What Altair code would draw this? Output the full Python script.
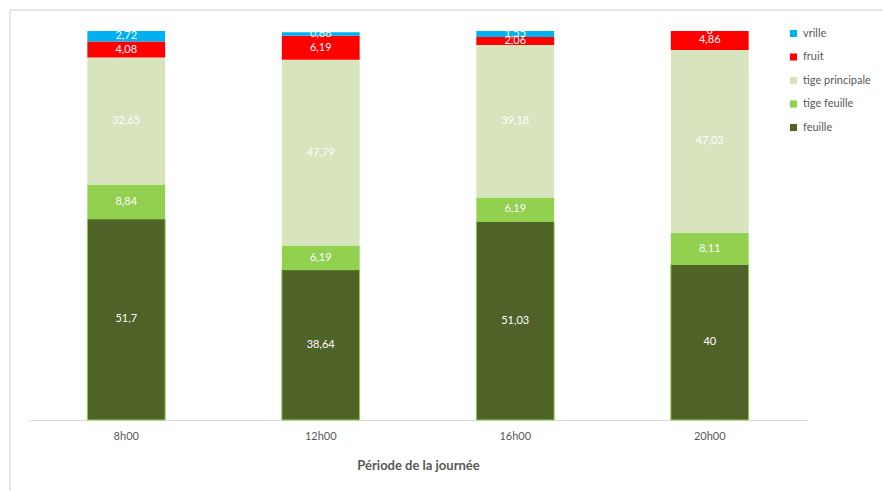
import altair as alt
import pandas as pd

periodes = ["8h00", "12h00", "16h00", "20h00"]
series = ["feuille", "tige feuille", "tige principale", "fruit", "vrille"]
feuille = [51.7, 38.64, 51.03, 40]
tige_feuille = [8.84, 6.19, 6.19, 8.11]
tige_principale = [32.65, 47.79, 39.18, 47.03]
fruit = [4.08, 6.19, 2.06, 4.86]
vrille = [2.72, 0.88, 1.55, 0]
labels = {
    "feuille": ["51,7", "38,64", "51,03", "40"],
    "tige feuille": ["8,84", "6,19", "6,19", "8,11"],
    "tige principale": ["32,65", "47,79", "39,18", "47,03"],
    "fruit": ["4,08", "6,19", "2,06", "4,86"],
    "vrille": ["2,72", "0,88", "1,55", "0"],
}
colors = {
    "vrille": "#00b0f0",
    "fruit": "#ff0000",
    "tige principale": "#d7e4bd",
    "tige feuille": "#92d050",
    "feuille": "#4f6228",
}
legend_order = ["vrille", "fruit", "tige principale", "tige feuille", "feuille"]

vals = {"feuille": feuille, "tige feuille": tige_feuille,
        "tige principale": tige_principale, "fruit": fruit, "vrille": vrille}
rows = []
for i, p in enumerate(periodes):
    for k, s in enumerate(series):
        rows.append({"periode": p, "serie": s, "valeur": vals[s][i],
                     "ord": k, "lab": labels[s][i]})
df = pd.DataFrame(rows)

FONT = "Lato"
base = alt.Chart(df).transform_stack(
    stack="valeur", groupby=["periode"], sort=[alt.SortField("ord")], as_=["v0", "v1"]
).transform_calculate(mid="(datum.v0 + datum.v1) / 2")

xenc = alt.X("periode:N", sort=periodes, title="Période de la journée",
             scale=alt.Scale(paddingInner=0.6, paddingOuter=0.3),
             axis=alt.Axis(labelAngle=0, ticks=False, domainColor="#d9d9d9",
                           labelColor="#595959", labelFontSize=11, labelFont=FONT,
                           labelPadding=10, titleColor="#595959", titleFontSize=13,
                           titleFont=FONT, titleFontWeight="bold", titlePadding=18))
yscale = alt.Scale(domain=[0, 100], nice=False, zero=True)

bars = base.mark_bar(strokeWidth=1).encode(
    x=xenc,
    y=alt.Y("v0:Q", scale=yscale, axis=None),
    y2="v1:Q",
    color=alt.Color("serie:N", scale=alt.Scale(domain=legend_order,
                                                range=[colors[s] for s in legend_order]),
                    legend=alt.Legend(title=None, orient="none", legendX=759, legendY=-3,
                                      symbolType="square", symbolSize=50,
                                      symbolStrokeWidth=0,
                                      labelFont=FONT, labelFontSize=11,
                                      labelColor="#595959", rowPadding=11.5)),
    stroke=alt.condition(alt.datum.serie == "feuille", alt.value("#92d050"),
                         alt.value(None)),
    order=alt.Order("ord:Q"),
)

text = base.mark_text(color="white", fontSize=11, font=FONT, baseline="middle").encode(
    x=alt.X("periode:N", sort=periodes),
    y=alt.Y("mid:Q", scale=yscale),
    text="lab:N",
)

frame_top = alt.Chart(df).mark_rule(color="#e6e6e6", strokeWidth=1).encode(
    x=alt.value(-19), x2=alt.value(860), y=alt.value(-21))
frame_left = alt.Chart(df).mark_rule(color="#e6e6e6", strokeWidth=1).encode(
    x=alt.value(-19), y=alt.value(-21), y2=alt.value(470))

chart = alt.layer(frame_top, frame_left, bars, text).properties(
    width=778, height=389,
    padding={"left": 29, "top": 31, "right": 76, "bottom": 71},
    autosize=alt.AutoSizeParams(type="none"),
    background="white",
).configure_view(stroke=None)

chart.save("out.html", embed_options={"renderer": "svg", "actions": False})
